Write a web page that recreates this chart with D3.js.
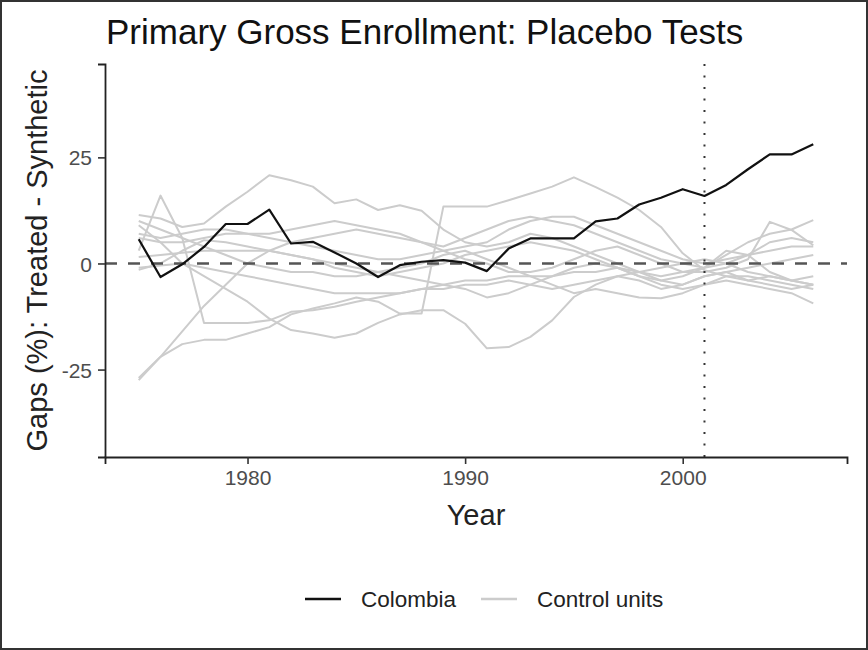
<!DOCTYPE html>
<html>
<head>
<meta charset="utf-8">
<script src="https://cdn.jsdelivr.net/npm/d3@7"></script>
<style>
  html, body { margin: 0; padding: 0; background: #fff; }
  svg { display: block; }
  text { font-family: "Liberation Sans", Arial, sans-serif; }
</style>
</head>
<body>
<svg id="chart" width="868" height="650"></svg>
<script>
// Years covered by the gap series
const years = d3.range(1975, 2007);

// Treated unit: gap between Colombia and its synthetic control
const colombia = [5.7, -3.2, -0.2, 3.9, 9.3, 9.3, 12.7, 4.7, 5.1, 2.6, 0.0, -3.2,
  -0.4, 0.4, 0.8, 0.2, -1.8, 3.5, 5.9, 5.9, 5.9, 9.9, 10.6, 13.9, 15.5, 17.5,
  15.9, 18.5, 22.2, 25.7, 25.7, 28.1];

// Placebo gaps for the control units
const controls = [
  [11.4, 10.6, 8.6, 9.4, 13.4, 16.9, 20.8, 19.6, 18.1, 14.2, 15.1, 12.6, 13.7, 12.4, 8.0, 5.0,
    4.0, 5.0, 7.0, 6.0, 4.0, 2.0, 0.0, -2.0, -4.0, -5.0, -3.0, -2.0, -4.0, -5.0, -6.0, -5.0],
  [-27.0, -22.0, -19.0, -18.0, -18.0, -16.5, -15.0, -12.0, -10.6, -9.4, -8.0, -9.0, -11.8, -11.8, 13.4, 13.4,
    13.4, 14.9, 16.5, 18.1, 20.3, 18.0, 15.5, 12.6, 8.6, 2.4, -1.6, -3.0, -4.0, -3.0, -4.0, -5.0],
  [-27.5, -22.0, -16.0, -10.0, -5.0, 0.0, 3.0, 5.0, 6.0, 7.0, 8.0, 7.0, 6.0, 5.0, 4.0, 6.0,
    8.0, 10.0, 11.0, 10.0, 9.0, 7.0, 5.0, 3.0, 1.0, 0.0, -1.0, 0.0, 2.0, 5.0, 6.0, 5.0],
  [9.0, 5.0, 0.0, -3.0, -6.0, -9.0, -13.0, -15.7, -16.5, -17.5, -16.5, -14.0, -12.0, -11.0, -11.0, -14.2,
    -20.0, -19.7, -17.3, -13.4, -7.9, -5.0, -3.0, -2.0, -1.0, 0.0, 1.0, 0.0, -2.0, -3.0, -4.0, -3.0],
  [3.0, 16.0, 6.0, -14.0, -14.0, -14.0, -13.4, -11.4, -11.0, -10.2, -9.0, -8.0, -7.0, -6.0, -5.0, -4.0,
    -4.0, -3.0, -3.0, -3.0, -2.0, -2.0, -1.0, -2.0, -3.0, -2.0, -1.0, 2.0, 5.0, 7.0, 8.0, 10.2],
  [6.0, 5.0, 5.0, 6.0, 7.0, 7.0, 6.0, 5.0, 4.0, 3.0, 2.0, 1.0, 1.0, 2.0, 3.0, 4.0,
    5.0, 8.0, 10.0, 11.0, 11.0, 9.0, 7.0, 5.0, 3.0, 1.0, 0.0, 1.0, 2.0, 3.0, 4.0, 4.0],
  [1.5, 2.0, 2.5, 3.0, 3.0, 3.0, 3.0, 2.0, 1.0, -1.0, -2.0, -3.0, -2.0, -1.0, 0.0, 2.0,
    3.0, 4.0, 5.0, 4.0, 3.0, 1.0, -1.0, -3.0, -5.0, -6.0, -5.0, -4.0, -5.0, -6.0, -7.0, -9.4],
  [-1.0, -0.5, 0.0, -1.0, -2.0, -3.0, -4.0, -5.0, -6.0, -7.0, -7.0, -7.0, -7.0, -6.0, -6.0, -5.0,
    -5.0, -4.0, -5.0, -6.0, -5.0, -4.0, -3.0, -4.0, -6.0, -5.0, -3.0, -2.0, -1.0, 0.0, 1.0, 2.0],
  [10.0, 8.0, 6.0, 4.0, 2.0, 0.0, -1.0, -2.0, -2.0, -3.0, -3.0, -2.0, -1.0, 0.0, 2.0, 3.0,
    1.0, -1.0, -3.0, -5.0, -7.0, -6.0, -7.0, -8.0, -8.2, -7.0, -5.0, -3.0, -3.0, -4.0, -5.0, -6.0],
  [7.0, 6.0, 7.0, 8.0, 8.0, 7.0, 7.0, 8.0, 9.0, 10.0, 9.0, 8.0, 7.0, 5.0, 3.0, 1.0,
    0.0, -2.0, -2.0, -1.0, 1.0, 3.0, 4.0, 2.0, 0.0, -2.0, -2.0, -1.0, 1.0, 9.8, 7.9, 4.3],
  [-1.5, 0.0, 3.0, 5.5, 5.0, 4.0, 3.0, 2.0, 1.0, 0.0, -1.0, -2.0, -3.0, -4.0, -5.0, -6.0,
    -8.0, -7.0, -5.0, -3.0, -1.0, 0.0, -1.0, -3.0, -4.0, -3.0, -1.0, 3.0, 2.0, -2.0, -4.0, -5.0]
];

const yTicks = [-25, 0, 25];
const xTicks = [1980, 1990, 2000];
const treatmentYear = 2001;

const seriesNames = ["Colombia", "Control units"];
const seriesColors = ["#111111", "#cccccc"];

const svg = d3.select("#chart");
const W = 868, H = 650;

// outer frame
svg.append("rect")
  .attr("x", 1).attr("y", 1).attr("width", W - 2).attr("height", H - 2)
  .attr("fill", "#fff").attr("stroke", "#333").attr("stroke-width", 2);

const plot = { left: 105, right: 847, top: 64, bottom: 457 };

const x = d3.scaleLinear().domain([1973.45, 2007.55]).range([plot.left, plot.right]);
const y = d3.scaleLinear().domain([-45.6, 47.0]).range([plot.bottom, plot.top]);

const line = d3.line()
  .x((d, i) => x(years[i]))
  .y(d => y(d));

const g = svg.append("g");

// control unit gaps
g.selectAll("path.control")
  .data(controls)
  .join("path")
  .attr("class", "control")
  .attr("d", line)
  .attr("fill", "none")
  .attr("stroke", seriesColors[1])
  .attr("stroke-width", 2)
  .attr("stroke-linejoin", "round");

// zero reference
g.append("line")
  .attr("x1", plot.left).attr("x2", plot.right)
  .attr("y1", y(0)).attr("y2", y(0))
  .attr("stroke", "#555").attr("stroke-width", 2.6)
  .attr("stroke-dasharray", "12,11");

// treatment year marker
g.append("line")
  .attr("x1", x(treatmentYear)).attr("x2", x(treatmentYear))
  .attr("y1", plot.top).attr("y2", plot.bottom)
  .attr("stroke", "#333").attr("stroke-width", 2)
  .attr("stroke-dasharray", "2,9.5");

// treated unit
g.append("path")
  .datum(colombia)
  .attr("d", line)
  .attr("fill", "none")
  .attr("stroke", seriesColors[0])
  .attr("stroke-width", 2.2)
  .attr("stroke-linejoin", "round");

// axes
const xAxis = svg.append("g")
  .attr("transform", `translate(0,${plot.bottom})`)
  .call(d3.axisBottom(x).tickValues(xTicks).tickFormat(d => String(d))
    .tickSizeOuter(0).tickSize(7).tickPadding(6));
const yAxis = svg.append("g")
  .attr("transform", `translate(${plot.left},0)`)
  .call(d3.axisLeft(y).tickValues(yTicks).tickFormat(d => String(d))
    .tickSizeOuter(0).tickSize(7).tickPadding(6));

[xAxis, yAxis].forEach(a => {
  a.select(".domain").attr("stroke", "#222").attr("stroke-width", 1.8);
  a.selectAll(".tick line").attr("stroke", "#333").attr("stroke-width", 1.6);
  a.selectAll(".tick text").attr("fill", "#4d4d4d").attr("font-size", 21)
    .attr("font-family", "Liberation Sans, Arial, sans-serif");
});
yAxis.selectAll(".tick text").attr("dy", "0.36em");

// titles
svg.append("text")
  .attr("x", 106).attr("y", 44)
  .attr("font-size", 35).attr("fill", "#111")
  .text("Primary Gross Enrollment: Placebo Tests");

svg.append("text")
  .attr("x", (plot.left + plot.right) / 2).attr("y", 525)
  .attr("text-anchor", "middle")
  .attr("font-size", 29).attr("fill", "#222")
  .text("Year");

svg.append("text")
  .attr("transform", `translate(47,${(plot.top + plot.bottom) / 2}) rotate(-90)`)
  .attr("text-anchor", "middle")
  .attr("font-size", 29).attr("fill", "#222")
  .text("Gaps (%): Treated - Synthetic");

// legend
const legend = svg.append("g").attr("transform", "translate(305,599)");
const legendX = [0, 176];
seriesNames.forEach((name, i) => {
  const item = legend.append("g").attr("transform", `translate(${legendX[i]},0)`);
  item.append("line")
    .attr("x1", 0).attr("x2", 36).attr("y1", 0).attr("y2", 0)
    .attr("stroke", seriesColors[i]).attr("stroke-width", 2.6);
  item.append("text")
    .attr("x", 56).attr("y", 8)
    .attr("font-size", 22.5).attr("fill", "#222")
    .text(name);
});
</script>
</body>
</html>
